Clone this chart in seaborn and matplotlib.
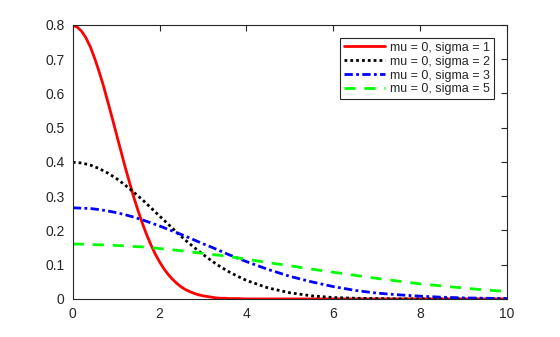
import matplotlib
matplotlib.use("Agg")
import matplotlib.pyplot as plt
import seaborn as sns
import pandas as pd

# Half-normal densities (mu = 0) for several sigma values
x_fine = [0.0, 0.1, 0.2, 0.3, 0.4, 0.5, 0.6, 0.7, 0.8, 0.9, 1.0, 1.1, 1.2, 1.3, 1.4,
          1.5, 1.6, 1.7, 1.8, 1.9, 2.0, 2.1, 2.2, 2.3, 2.4, 2.5, 2.6, 2.7, 2.8, 2.9,
          3.0, 3.1, 3.2, 3.3, 3.4, 3.5, 3.6, 3.8, 4.0, 5.0, 6.0, 7.0, 8.0, 9.0, 10.0]

sigma1 = [0.798, 0.794, 0.782, 0.763, 0.737, 0.704, 0.666, 0.625, 0.579, 0.532, 0.484,
          0.436, 0.388, 0.343, 0.299, 0.259, 0.222, 0.188, 0.158, 0.131, 0.108, 0.088,
          0.071, 0.057, 0.045, 0.035, 0.027, 0.021, 0.016, 0.012, 0.009, 0.007, 0.005,
          0.003, 0.002, 0.002, 0.001, 0.001, 0.000, 0.000, 0.000, 0.000, 0.000, 0.000,
          0.000]

x_vals = [0.0, 0.2, 0.4, 0.6, 0.8, 1.0, 1.2, 1.4, 1.6, 1.8, 2.0, 2.2, 2.4, 2.6, 2.8,
          3.0, 3.2, 3.4, 3.6, 3.8, 4.0, 4.5, 5.0, 5.5, 6.0, 6.5, 7.0, 7.5, 8.0, 8.5,
          9.0, 9.5, 10.0]

sigma2 = [0.399, 0.397, 0.391, 0.381, 0.368, 0.352, 0.333, 0.312, 0.290, 0.266, 0.242,
          0.218, 0.194, 0.171, 0.150, 0.130, 0.111, 0.094, 0.079, 0.066, 0.054, 0.032,
          0.018, 0.009, 0.004, 0.002, 0.001, 0.000, 0.000, 0.000, 0.000, 0.000, 0.000]

sigma3 = [0.266, 0.265, 0.264, 0.261, 0.257, 0.252, 0.246, 0.239, 0.231, 0.222, 0.213,
          0.203, 0.193, 0.183, 0.172, 0.161, 0.151, 0.140, 0.129, 0.119, 0.109, 0.086,
          0.066, 0.050, 0.036, 0.025, 0.017, 0.012, 0.008, 0.005, 0.003, 0.002, 0.001]

sigma5 = [0.160, 0.160, 0.159, 0.158, 0.158, 0.156, 0.155, 0.153, 0.152, 0.150, 0.147,
          0.145, 0.142, 0.139, 0.136, 0.133, 0.130, 0.127, 0.123, 0.120, 0.116, 0.106,
          0.097, 0.087, 0.078, 0.069, 0.060, 0.052, 0.044, 0.038, 0.032, 0.026, 0.022]

labels = ["mu = 0, sigma = 1", "mu = 0, sigma = 2", "mu = 0, sigma = 3", "mu = 0, sigma = 5"]
xs = [x_fine, x_vals, x_vals, x_vals]
series = [sigma1, sigma2, sigma3, sigma5]
colors = ["#ff0000", "#000000", "#0000ff", "#00ff00"]
# on/off dash sequences in units of line width (None = solid)
dash_seqs = [None, (1.0, 1.1), (3.0, 1.2, 1.0, 1.2), (4.0, 3.2)]

x_ticks = [0, 2, 4, 6, 8, 10]
y_ticks = [0, 0.1, 0.2, 0.3, 0.4, 0.5, 0.6, 0.7, 0.8]

sns.set_style("white")
plt.rcParams["font.family"] = ["Liberation Sans", "DejaVu Sans"]
plt.rcParams["lines.scale_dashes"] = True

fig = plt.figure(figsize=(5.6, 3.37), dpi=100)
ax = fig.add_axes([0.13, 0.113, 0.775, 0.813])

for xv, vals, lab, col, dsh in zip(xs, series, labels, colors, dash_seqs):
    df = pd.DataFrame({"x": xv, "y": vals})
    sns.lineplot(data=df, x="x", y="y", ax=ax, color=col, linewidth=2, label=lab)
    if dsh is not None:
        ax.lines[-1].set_dashes(dsh)

ax.set_xlim(0, 10)
ax.set_ylim(0, 0.8)
ax.set_xticks(x_ticks)
ax.set_xticklabels([f"{t:g}" for t in x_ticks])
ax.set_yticks(y_ticks)
ax.set_yticklabels([f"{t:g}" for t in y_ticks])
ax.set_xlabel("")
ax.set_ylabel("")

ax.tick_params(direction="in", length=4, width=0.8, top=True, right=True,
               labelsize=10, colors="#262626", pad=6)
for side in ["top", "right", "bottom", "left"]:
    ax.spines[side].set_visible(True)
    ax.spines[side].set_color("#262626")
    ax.spines[side].set_linewidth(0.8)

leg = ax.legend(loc="upper right", fontsize=9, handlelength=3.3, handletextpad=0.4,
                labelspacing=0.15, borderpad=0.3, fancybox=False, framealpha=1,
                bbox_to_anchor=(0.985, 0.975))
leg.get_frame().set_edgecolor("#262626")
leg.get_frame().set_linewidth(0.8)

fig.savefig("out.png", dpi=100)
